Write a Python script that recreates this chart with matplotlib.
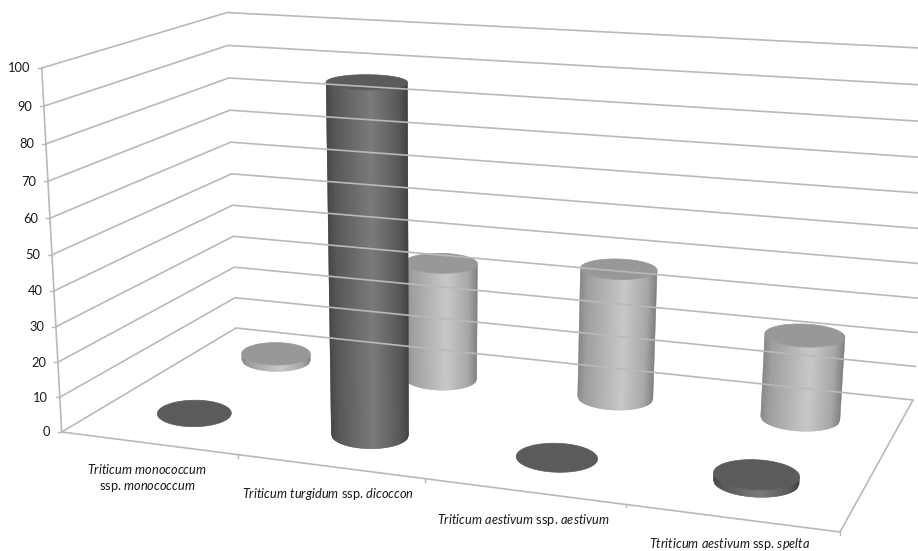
import numpy as np
import matplotlib
matplotlib.use('Agg')
import matplotlib.pyplot as plt
from matplotlib.collections import PolyCollection
from matplotlib.colors import to_rgb

plt.rcParams['font.family'] = ['Lato', 'DejaVu Sans']
plt.rcParams['mathtext.fontset'] = 'custom'
plt.rcParams['mathtext.it'] = 'Lato:italic'
plt.rcParams['mathtext.rm'] = 'Lato'

# -----------data
categories = [
    r'$\mathit{Triticum\ monococcum}$' + '\n' + r'ssp. $\mathit{monococcum}$',
    r'$\mathit{Triticum\ turgidum}$ ssp. $\mathit{dicoccon}$',
    r'$\mathit{Triticum\ aestivum}$ ssp. $\mathit{aestivum}$',
    r'$\mathit{Ttriticum\ aestivum}$ ssp. $\mathit{spelta}$',
]
front_vals = [0, 96.5, 0, 2]
back_vals = [2, 35, 38, 24]
y_ticks = [0, 10, 20, 30, 40, 50, 60, 70, 80, 90, 100]

# -----------box corners on screen (floor), and the vertical vanishing point
floor_fl = (61.7, 432)
floor_bl = (236, 328)
floor_br = (913, 400)
floor_fr = (840, 532)
top_fl = (41.7, 68)
vanish = (431, 7158)

grid_col = '#b9b9b9'
text_col = '#1a1a1a'


def floor_matrix():
    src = [(0, 0), (1, 0), (1, 1), (0, 1)]
    dst = [floor_fl, floor_fr, floor_br, floor_bl]
    a = []
    b = []
    for (u, v), (x, y) in zip(src, dst):
        a.append([u, v, 1, 0, 0, 0, -u * x, -v * x])
        a.append([0, 0, 0, u, v, 1, -u * y, -v * y])
        b += [x, y]
    h = np.linalg.solve(np.array(a, float), np.array(b, float))
    return np.array([[h[0], h[1], h[2]], [h[3], h[4], h[5]], [h[6], h[7], 1.0]])


H = floor_matrix()
# height column, scaled so 100 lands on the top of the front left edge
f = (top_fl[1] - floor_fl[1]) / (vanish[1] - floor_fl[1])
lam = f / (1 - f) * H[2, 2] / 100
C3 = lam * np.array([vanish[0], vanish[1], 1.0])


def proj(u, v, h=0):
    u = np.asarray(u, float)
    v = np.asarray(v, float)
    p = np.array([H[i, 0] * u + H[i, 1] * v + H[i, 2] + C3[i] * h for i in range(3)])
    return p[0] / p[2], p[1] / p[2]


def shade(stops, frac):
    pos = [s[0] for s in stops]
    cols = np.array([to_rgb(s[1]) for s in stops])
    return np.column_stack([np.interp(frac, pos, cols[:, i]) for i in range(3)])


dark_side = [(0, '#444444'), (0.1, '#565656'), (0.55, '#7a7c7c'), (0.88, '#585858'), (1, '#404040')]
light_side = [(0, '#858585'), (0.1, '#9d9d9d'), (0.58, '#c9c9c9'), (0.88, '#a6a6a6'), (1, '#7e7e7e')]

RU = 0.051
RV = 0.103
SKEW = -0.0093  # flattens the ellipses, strongest on the left side


def cylinder(ax, uc, vc, val, side, top_col):
    t = np.linspace(0, 2 * np.pi, 721)[:-1]
    uu = uc + RU * np.cos(t) + SKEW * (1 - uc) * np.sin(t)
    vv = vc + RV * np.sin(t)
    xb, yb = proj(uu, vv, 0)
    xt, yt = proj(uu, vv, val)
    if val > 0:
        # near half of the rim, walked from the left extreme to the right one
        il = np.argmin(xb)
        ir = np.argmax(xb)
        n = (ir - il) % len(t)
        idx = (il + np.arange(n + 1)) % len(t)
        if yb[idx[n // 2]] < (yb[il] + yb[ir]) / 2:
            n = (il - ir) % len(t)
            idx = (il - np.arange(n + 1)) % len(t)
        # even steps in x so no strip is thinner than a pixel
        nstrip = max(int((xb[ir] - xb[il]) / 1.5), 2)
        xs_b = np.linspace(xb[il], xb[ir], nstrip + 1)
        tt = np.interp(xs_b, xb[idx], np.arange(n + 1))
        ii = tt.round().astype(int)
        ii[0] = 0
        ii[-1] = n
        pts = idx[ii]
        sil = list(zip(xb[pts], yb[pts])) + list(zip(xt[pts[::-1]], yt[pts[::-1]]))
        ax.fill([p[0] for p in sil], [p[1] for p in sil], color=shade(side, 0.5)[0], lw=0)
        quads = []
        for a, b in zip(pts[:-1], pts[1:]):
            quads.append([(xb[a], yb[a]), (xb[b], yb[b]), (xt[b], yt[b]), (xt[a], yt[a])])
        frac = (xs_b[:-1] + xs_b[1:] - 2 * xb[il]) / 2 / (xb[ir] - xb[il])
        cols = shade(side, frac)
        pc = PolyCollection(quads, facecolors=cols, edgecolors=cols, linewidths=0.2)
        ax.add_collection(pc)
    ax.fill(xt, yt, color=top_col, lw=0.5)


fig = plt.figure(figsize=(9.18, 5.51), dpi=100)
ax = fig.add_axes([0, 0, 1, 1])
ax.set_xlim(0, 918)
ax.set_ylim(551, 0)
ax.axis('off')

# -----------walls
for tick in y_ticks:
    x0, y0 = proj(0, 0, tick)
    x1, y1 = proj(0, 1, tick)
    x2, y2 = proj(1, 1, tick)
    ax.plot([x0, x1, x2], [y0, y1, y2], color=grid_col, lw=1.2, solid_joinstyle='miter')
    ax.plot([x0 - 4, x0], [y0, y0], color=grid_col, lw=1)
    ax.text(x0 - 11.5, y0 + 0.5, str(tick), ha='right', va='center', fontsize=9.3, color=text_col)

x0, y0 = proj(0, 0, 0)
x1, y1 = proj(0, 0, 100)
ax.plot([x0, x1], [y0, y1], color=grid_col, lw=1.2)

# -----------floor
xs, ys = proj([0, 1, 1], [0, 0, 1], 0)
ax.plot(xs, ys, color=grid_col, lw=1.2, solid_joinstyle='miter')
for i in range(1, 5):
    x, y = proj(i / 4, 0, 0)
    ax.plot([x, x], [y, y + 3], color=grid_col, lw=1)

# -----------cylinders, back row first
for i, val in enumerate(back_vals):
    cylinder(ax, (i + 0.5) / 4, 0.75, val, light_side, '#989898')
for i, val in enumerate(front_vals):
    cylinder(ax, (i + 0.5) / 4, 0.25, val, dark_side, '#5b5b5b')

# -----------category labels
ax.text(147, 478, categories[0], ha='center', va='center', fontsize=9.2, color=text_col, linespacing=1.3)
ax.text(328, 494, categories[1], ha='center', va='center', fontsize=9.2, color=text_col)
ax.text(523, 520, categories[2], ha='center', va='center', fontsize=9.2, color=text_col)
ax.text(730, 543.5, categories[3], ha='center', va='center', fontsize=9.2, color=text_col)

fig.savefig('out.png', dpi=100)
